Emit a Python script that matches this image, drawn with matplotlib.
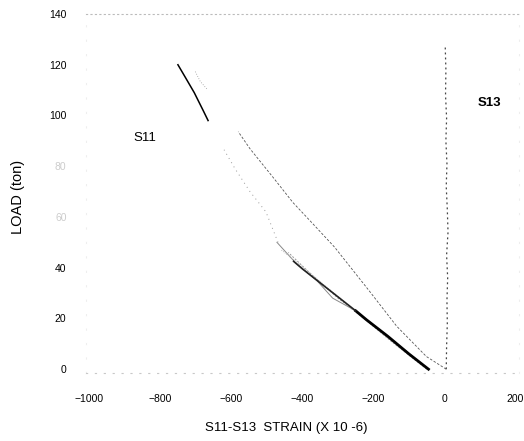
#!/usr/bin/env python3
"""Load vs S11/S13 strain curves (scanned test record)."""

import matplotlib
matplotlib.use('Agg')
import matplotlib.pyplot as plt

plt.rcParams['font.family'] = ['Liberation Sans', 'DejaVu Sans']

# S11 gauge, main loading band (dark, lower part)
s11_band_strain = [-45, -100, -160, -220, -250]
s11_band_load = [0, 6, 13, 19.5, 23]
# same band, upper part (thinner)
s11_band_hi_strain = [-250, -300, -350, -400, -425]
s11_band_hi_load = [23, 28.5, 34, 39.5, 42.5]

# S11 band, upper cycles
s11_upper_strain = [-45, -120, -200, -250, -315, -360, -420, -472]
s11_upper_load = [0, 8.5, 17.5, 23, 28, 35, 42, 50]
s11_upper2_strain = [-50, -150, -240, -300, -380, -440]
s11_upper2_load = [0, 11, 21.5, 28, 38, 46]
s11_upper3_strain = [-48, -140, -230, -290, -350, -410, -460]
s11_upper3_load = [0, 10, 20.5, 27.5, 34.5, 41.5, 47]

# S11 thin line from origin
s11_thin_strain = [5, -51, -135, -211, -275, -309, -374, -427, -480, -548, -581]
s11_thin_load = [0, 5, 17, 30.7, 42, 48, 57.8, 65.7, 75.1, 86.9, 93.6]

# S11 dotted branch
s11_dot_strain = [-469, -503, -548, -590, -621]
s11_dot_load = [50, 62, 70, 79, 86.5]

# S11 high-load segment
s11_top_strain = [-751, -730, -705, -680, -666]
s11_top_load = [120, 115, 109, 102, 98]
s11_top2_strain = [-702, -688, -669]
s11_top2_load = [117.3, 113.4, 110.4]

# S13 gauge
s13_strain = [5, 6, 8, 7, 9, 6, 10, 8, 5, 7, 4, 6, 3, 4, 2]
s13_load = [0, 9, 18, 27, 36, 45, 54, 63, 72, 81, 90, 99, 108, 118, 128]

x_ticks = [-1000, -800, -600, -400, -200, 0, 200]
y_ticks = [0, 20, 40, 60, 80, 100, 120, 140]

fig = plt.figure(figsize=(5.24, 4.41), dpi=100)
ax = fig.add_axes([86 / 524, 68 / 441, 433 / 524, 359 / 441])

ax.plot(s11_upper_strain, s11_upper_load, color='#888888', lw=0.7)
ax.plot(s11_upper3_strain, s11_upper3_load, color='#aaaaaa', lw=0.6, ls=(0, (1, 1.5)))
ax.plot(s11_upper2_strain, s11_upper2_load, color='#999999', lw=0.7, ls=(0, (2, 1.5)))
ax.plot(s11_band_strain, s11_band_load, color='black', lw=2.0)
ax.plot(s11_band_hi_strain, s11_band_hi_load, color='#222222', lw=1.2)
ax.plot(s11_thin_strain, s11_thin_load, color='#555555', lw=0.6, ls=(0, (3, 2)))
ax.plot(s11_dot_strain, s11_dot_load, color='#999999', lw=0.7, ls=(0, (1, 4)))
ax.plot(s11_top_strain, s11_top_load, color='black', lw=1.1)
ax.plot(s11_top2_strain, s11_top2_load, color='#999999', lw=0.6, ls=(0, (1, 2)))
ax.plot(s13_strain, s13_load, color='#444444', lw=0.9, ls=(0, (1.5, 2.5)))

ax.text(-844, 91, 'S11', fontsize=9.5, ha='center', va='center')
ax.text(128, 105, 'S13', fontsize=9.5, fontweight='bold', ha='center', va='center')

ax.set_xlim(-1010, 210)
ax.set_ylim(-1.5, 140)
ax.set_xticks(x_ticks)
ax.set_yticks(y_ticks)
ax.tick_params(length=0, labelsize=7.5)
ax.tick_params(axis='y', pad=14)
ax.tick_params(axis='x', pad=15)
for lbl in ax.get_yticklabels():
    if lbl.get_text() in ('60', '80'):
        lbl.set_color('#cccccc')

for side, col, dash in [('top', '#bbbbbb', (0, (1, 3))), ('bottom', '#c8c8c8', (0, (1, 7))),
                        ('left', '#eeeeee', (0, (1, 12))), ('right', '#eeeeee', (0, (1, 12)))]:
    ax.spines[side].set_color(col)
    ax.spines[side].set_linestyle(dash)
    ax.spines[side].set_linewidth(0.8)

fig.text(286 / 524, 1 - 428 / 441, 'S11-S13  STRAIN (X 10 -6)', fontsize=9.5,
         ha='center', va='center')
fig.text(18 / 524, 1 - 197 / 441, 'LOAD (ton)', fontsize=10.5, rotation=90,
         ha='center', va='center')

fig.savefig('out.png', dpi=100)
